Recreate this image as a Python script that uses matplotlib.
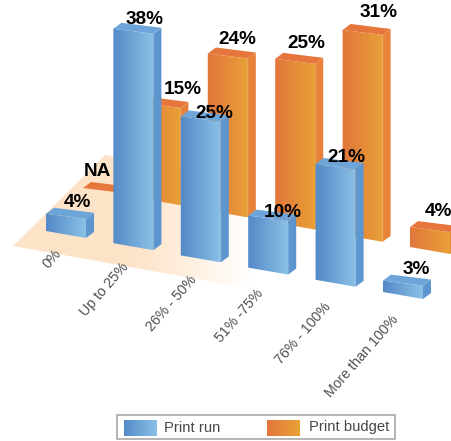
"""Oblique pseudo-3D bar chart of print run vs print budget overruns."""

import matplotlib

matplotlib.use("Agg")
import matplotlib.pyplot as plt
import numpy as np
from matplotlib.colors import LinearSegmentedColormap
from matplotlib.patches import Polygon, Rectangle

CATEGORIES = ["0%", "Up to 25%", "26% - 50%", "51% -75%", "76% - 100%", "More than 100%"]
PRINT_RUN = [4, 38, 25, 10, 21, 3]
PRINT_BUDGET = [None, 15, 24, 25, 31, 4]

# oblique projection, all in image pixels
ORIGIN = np.array([46.0, 231.0])
CAT_STEP = np.array([67.4, 12.2])
TICK_STEP = np.array([67.4, 13.3])
WIDTH_VEC = np.array([40.0, 7.0])
TOP_DROP = np.array([0.0, -2.0])  # top edge is a bit flatter than the bottom one
DEPTH_VEC = np.array([8.0, -6.0])
SERIES_SHIFT = {"run": np.array([0.0, 0.0]), "budget": np.array([27.0, -45.0])}
NA_SHIFT = np.array([10.0, 2.0])
SCALE = {"run": (5.8, -6.0), "budget": (6.85, -7.5)}

BLUE = dict(front=("#5288c6", "#8cc2e6"), side=("#6099d2", "#5c94ce"), top="#6ea5d8")
ORANGE = dict(front=("#e2753c", "#e8a236"), side=("#e98a3a", "#e87e3a"), top="#e6763c")

# label offset from the bar's front centre / top
RUN_NUDGE = {0: (11, -11), 1: (11, -9), 2: (14, -3), 3: (15, -3), 4: (11, -6), 5: (13, -11)}
BUDGET_NUDGE = {0: (-6, -17), 1: (22, -13), 2: (10, -14), 3: (11, -15), 4: (16, -17), 5: (8, -16)}


def gradient_poly(ax, pts, colors, extent=None, zorder=2):
    pts = np.asarray(pts)
    cmap = LinearSegmentedColormap.from_list("g", colors)
    if extent is None:
        extent = (pts[:, 0].min() - 1, pts[:, 0].max() + 1, pts[:, 1].max(), pts[:, 1].min())
    im = ax.imshow(
        np.linspace(0, 1, 256).reshape(1, -1), cmap=cmap, extent=extent,
        aspect="auto", zorder=zorder, interpolation="bilinear",
    )
    im.set_clip_path(Polygon(pts, closed=True, transform=ax.transData))


def draw_bar(ax, i, value, series, style, zorder):
    a, b = SCALE[series]
    base = ORIGIN + i * CAT_STEP + SERIES_SHIFT[series]
    if value is None:
        base = base + NA_SHIFT
    h = a * value + b if value else 0
    lift = np.array([0.0, -h])
    fl, fr = base, base + WIDTH_VEC
    tl, tr = fl + lift, fr + lift + TOP_DROP
    if h:
        gradient_poly(ax, [fl, fr, tr, tl], style["front"], zorder=zorder)
        gradient_poly(ax, [fr, fr + DEPTH_VEC, tr + DEPTH_VEC, tr], style["side"], zorder=zorder)
    ax.add_patch(Polygon([tl, tr, tr + DEPTH_VEC, tl + DEPTH_VEC], closed=True,
                         facecolor=style["top"], edgecolor="none", zorder=zorder))
    return tl, base + WIDTH_VEC / 2


def main():
    plt.rcParams["font.family"] = ["Liberation Sans", "DejaVu Sans"]
    fig = plt.figure(figsize=(4.52, 4.41), dpi=100)
    ax = fig.add_axes([0, 0, 1, 1])
    ax.axis("off")

    # floor fading out to the right
    floor = [(13, 246), (105, 155), (345, 198), (253, 289)]
    gradient_poly(ax, floor, ["#fde3c8", "#fde3c8", "#fde3c8", "#fff0e0", "#ffffff"],
                  extent=(13, 250, 290, 155), zorder=1)

    for series, values, style, nudge, z in [
        ("budget", PRINT_BUDGET, ORANGE, BUDGET_NUDGE, 2),
        ("run", PRINT_RUN, BLUE, RUN_NUDGE, 3),
    ]:
        for i, v in enumerate(values):
            top_left, mid = draw_bar(ax, i, v, series, style, z)
            dx, dy = nudge[i]
            label = "NA" if v is None else f"{v}%"
            ax.text(mid[0] + dx, top_left[1] + dy, label, fontsize=13.7, fontweight="bold",
                    color="black", ha="center", va="center", zorder=5)

    for i, cat in enumerate(CATEGORIES):
        anchor = ORIGIN + i * TICK_STEP + np.array([13.0, 20.0])
        ax.text(anchor[0], anchor[1], cat, rotation=49, rotation_mode="anchor",
                ha="right", va="center", fontsize=10.2, color="#505050", zorder=5)

    # legend
    ax.add_patch(Rectangle((117, 415), 278, 24, facecolor="white", edgecolor="#a8a8a8",
                           linewidth=1.2, zorder=6))
    for x0, style, name, tx in [(124, BLUE, "Print run", 164), (267, ORANGE, "Print budget", 309)]:
        swatch = [(x0, 420), (x0 + 33, 420), (x0 + 33, 436), (x0, 436)]
        gradient_poly(ax, swatch, style["front"], zorder=7)
        ax.text(tx, 427.5, name, fontsize=10.7, color="#484848", ha="left", va="center", zorder=7)

    ax.set_xlim(0, 452)
    ax.set_ylim(441, 0)
    fig.savefig("out.png", dpi=100)


if __name__ == "__main__":
    main()
